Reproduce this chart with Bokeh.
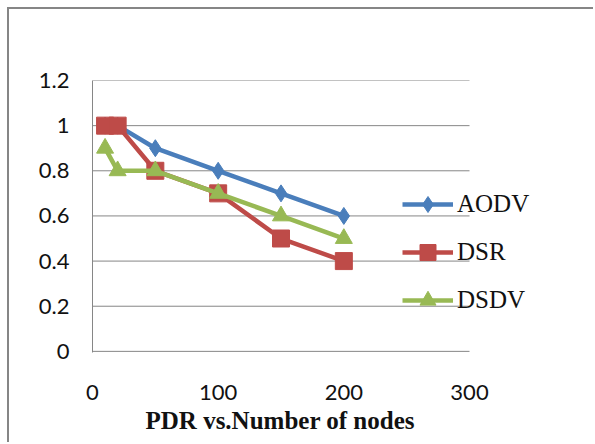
from bokeh.plotting import figure
from bokeh.models import Range1d, FixedTicker, Legend, LegendItem, Title
from bokeh.embed import file_html
from bokeh.resources import INLINE

nodes = [10, 20, 50, 100, 150, 200]
aodv = [1.0, 1.0, 0.9, 0.8, 0.7, 0.6]
dsr = [1.0, 1.0, 0.8, 0.7, 0.5, 0.4]
dsdv = [0.9, 0.8, 0.8, 0.7, 0.6, 0.5]
x_ticks = [0, 100, 200, 300]
y_ticks = [0, 0.2, 0.4, 0.6, 0.8, 1.0, 1.2]
y_tick_labels = ["0", "0.2", "0.4", "0.6", "0.8", "1", "1.2"]
title_text = "PDR vs.Number of nodes"

grey = "#868686"
OFF = 9          # page offset of the canvas (margin + border)
W, H = 595 - OFF, 444 - OFF
LEFT, TOP, BOTTOM = 92 - OFF, 80 - OFF, H - (352 - OFF)
frame_w = W - LEFT
x_end = x_ticks[-1] * frame_w / (469 - 92)

p = figure(width=W, height=H, output_backend="svg", toolbar_location=None,
           x_range=Range1d(0, x_end), y_range=Range1d(-0.005, 1.2),
           min_border_left=LEFT, min_border_right=0, min_border_top=TOP,
           min_border_bottom=BOTTOM)
p.outline_line_color = None
p.background_fill_color = "white"
p.border_fill_color = "white"
p.styles = {"border-left": f"2px solid {grey}", "border-top": f"2px solid {grey}",
            "margin-left": "7px", "margin-top": "7px"}

p.xaxis.ticker = FixedTicker(ticks=x_ticks)
p.yaxis.ticker = FixedTicker(ticks=y_ticks)
p.yaxis.major_label_overrides = {t: l for t, l in zip(y_ticks, y_tick_labels)}
for ax in (p.xaxis[0], p.yaxis[0]):
    ax.major_tick_line_color = None
    ax.minor_tick_line_color = None
    ax.major_label_text_font = "Lato"
    ax.major_label_text_font_size = "22px"
    ax.major_label_text_color = "#111111"
p.xaxis.axis_line_color = None
p.yaxis.axis_line_color = grey
p.yaxis.axis_line_width = 1
p.yaxis.major_label_standoff = 17
p.xaxis.major_label_standoff = 26
p.xgrid.grid_line_color = None
p.ygrid.grid_line_color = None

# horizontal gridlines spanning the x tick range only
p.segment(x0=[x_ticks[0]] * len(y_ticks), x1=[x_ticks[-1]] * len(y_ticks),
          y0=y_ticks, y1=y_ticks, line_color=grey, line_width=1)

series = [
    ("AODV", aodv, "#4A7EBB", "diamond"),
    ("DSR", dsr, "#BE4B48", "square"),
    ("DSDV", dsdv, "#98B954", "triangle"),
]
items = []
for name, vals, col, mk in series:
    l = p.line(nodes, vals, line_color=col, line_width=4.5)
    s = p.scatter(nodes, vals, marker=mk, size=17, fill_color=col, line_color=col)
    items.append(LegendItem(label=name, renderers=[l, s]))

legend = Legend(items=items, location=(310, 32), background_fill_alpha=0,
                border_line_color=None, padding=0, margin=0, spacing=8,
                glyph_height=40, glyph_width=51, label_height=40, label_standoff=4,
                label_text_font="Liberation Serif", label_text_font_size="25px",
                label_text_color="#111111")
p.add_layout(legend, "center")

p.add_layout(Title(text=title_text, align="left", offset=53, vertical_align="top",
                   text_font="Liberation Serif", text_font_size="25px",
                   text_font_style="bold", text_color="#111111", standoff=9), "below")

open("out.html", "w").write(file_html(p, INLINE))
